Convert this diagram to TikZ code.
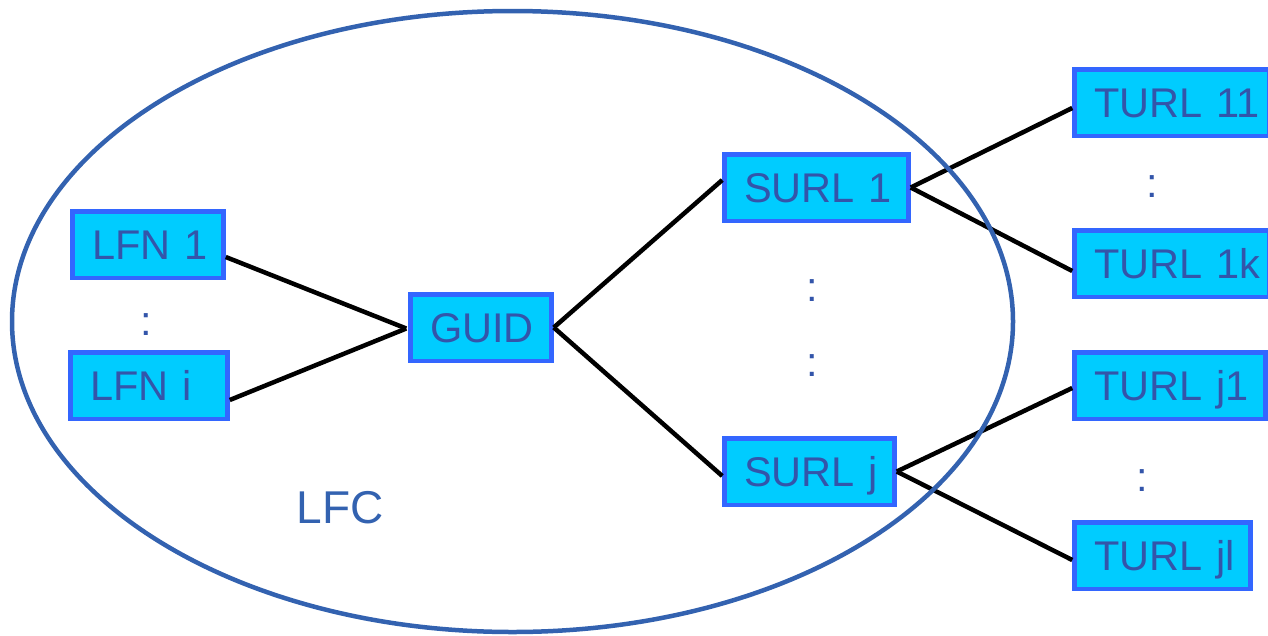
\documentclass[tikz,border=0pt]{standalone}
\usepackage{fontspec}
\setmainfont{Liberation Sans}
\definecolor{boxfill}{HTML}{00CCFF}
\definecolor{boxline}{HTML}{3366FF}
\definecolor{boxtext}{HTML}{3355AA}
\definecolor{ellcol}{HTML}{3362B0}
\begin{document}
\begin{tikzpicture}[x=1pt,y=-1pt,
  box/.style={draw=boxline, fill=boxfill, line width=4.5pt, text=boxtext,
    font=\fontsize{41.5}{48}\selectfont, inner xsep=19.5pt, inner ysep=0pt,
    align=left, text height=30pt, text depth=0pt, minimum height=66.5pt},
  vdots/.style={text=boxtext, font=\fontsize{41.5}{48}\selectfont, inner sep=0pt, anchor=base},
  link/.style={line width=4.5pt, black},
  lfclabel/.style={text=ellcol, font=\fontsize{46}{52}\selectfont, inner sep=0pt,
    text height=33pt, text depth=0pt}]
\useasboundingbox (0,0) rectangle (1268,635);
% boxes (text width = box width - 2*inner xsep)
\node[box, text width=112pt] (lfn1) at (148,244.5) {\mbox{LFN 1}};
\node[box, text width=118pt] (lfni) at (149,385.5) {\mbox{LFN i}};
\node[box, text width=102pt] (guid) at (481,327.5) {\mbox{GUID}};
\node[box, text width=145pt] (surl1) at (816.5,187.5) {\mbox{SURL 1}};
\node[box, text width=131pt] (surlj) at (809.5,471.5) {\mbox{SURL j}};
\node[box, text width=156pt] (turl11) at (1172,102.5) {\mbox{TURL 11}};
\node[box, text width=156pt] (turl1k) at (1172,263.5) {\mbox{TURL 1k}};
\node[box, text width=152pt] (turlj1) at (1170,385.5) {\mbox{TURL j1}};
\node[box, text width=137pt] (turljl) at (1162.5,555.5) {\mbox{TURL jl}};
% dots
\node[vdots] (d1) at (146,335) {:};
\node[vdots] (d2) at (812,301) {:};
\node[vdots] (d3) at (812,376) {:};
\node[vdots] (d4) at (1152,197) {:};
\node[vdots] (d5) at (1142,491) {:};
% connectors
\draw[link] ([yshift=-12.5pt]lfn1.east) -- ([xshift=-2pt,yshift=-1pt]guid.west);
\draw[link] ([yshift=-14.5pt]lfni.east) -- ([xshift=-2pt,yshift=-1pt]guid.west);
\draw[link] (guid.east) -- ([yshift=7.5pt]surl1.west);
\draw[link] (guid.east) -- ([yshift=-4.5pt]surlj.west);
\draw[link] (surl1.east) -- ([yshift=-5.5pt]turl11.west);
\draw[link] (surl1.east) -- ([yshift=-7.5pt]turl1k.west);
\draw[link] (surlj.east) -- ([yshift=-2.5pt]turlj1.west);
\draw[link] (surlj.east) -- ([yshift=-4.5pt]turljl.west);
% LFC ellipse
\draw[ellcol, line width=4.5pt] (512.5,321.5) ellipse [x radius=500.5pt, y radius=310.5pt];
\node[lfclabel] (lfc) at (340,507) {LFC};
\end{tikzpicture}
\end{document}
